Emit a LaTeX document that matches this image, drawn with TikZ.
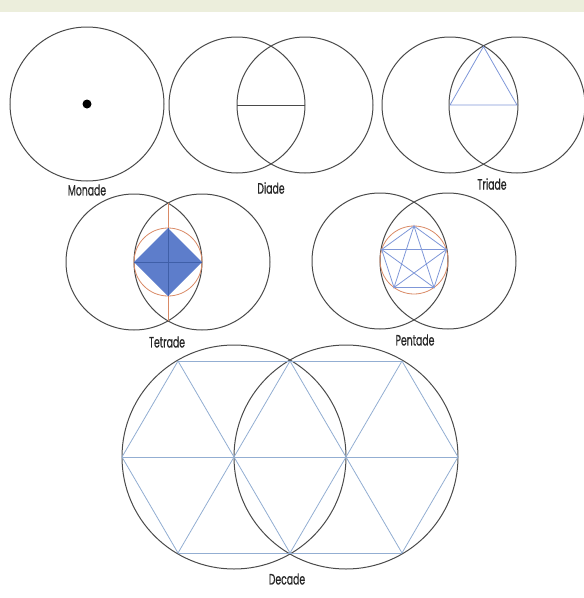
\documentclass[tikz,border=0pt]{standalone}
\usepackage{fontspec}
\setmainfont{Poppins}[FakeStretch=0.62, FakeBold=0.6]
\usepackage{tikz}

\definecolor{bandgreen}{HTML}{ECEEDC}
\definecolor{ringgray}{HTML}{4A4A4A}
\definecolor{gridblue}{HTML}{93AED2}
\definecolor{starblue}{HTML}{7F97D8}
\definecolor{fillblue}{HTML}{5D7DCB}
\definecolor{crossblue}{HTML}{3F5FA8}
\definecolor{ringred}{HTML}{D98A66}

\begin{document}
\begin{tikzpicture}[
    x=1pt, y=-1pt,
    ring/.style={draw=ringgray, line width=1pt},
    gridline/.style={draw=gridblue, line width=0.8pt},
    starline/.style={draw=starblue, line width=0.8pt},
    redline/.style={draw=ringred, line width=0.8pt},
    namelabel/.style={font=\fontsize{15}{17}\selectfont, text=black!85, inner sep=0pt}
]
\useasboundingbox (0,0) rectangle (584,598);
\fill[bandgreen] (0,0) rectangle (584,12);

% monade
\draw[ring] (87,104) circle (77);
\fill[black] (87,104) circle (4.5);
\node[namelabel] (monade) at (87,190) {Monade};

% diade
\draw[ring] (237,105) circle (68);
\draw[ring] (305,105) circle (68);
\draw[ring] (237,105) -- (305,105);
\node[namelabel] (diade) at (271,188) {Diade};

% triade
\draw[ring] (450,105) circle (68);
\draw[ring] (517,105) circle (68);
\draw[starline] (450,105) -- (517,105) -- (483.5,46.5) -- cycle;
\node[namelabel] (triade) at (492,184) {Triade};

% tetrade
\draw[ring] (134,262) circle (68);
\draw[ring] (202,262) circle (68);
\draw[redline] (168,203) -- (168,321);
\draw[redline] (168,262) circle (34);
\fill[fillblue] (134,262) -- (168,228) -- (202,262) -- (168,296) -- cycle;
\draw[crossblue, line width=0.6pt] (134,262) -- (202,262);
\draw[crossblue, line width=0.6pt] (168,228) -- (168,296);
\node[namelabel] (tetrade) at (167,342) {Tetrade};

% pentade
\draw[ring] (380,261) circle (68);
\draw[ring] (448,261) circle (68);
\begin{scope}[shift={(414,260)}, yscale=-1]
  \draw[redline] (0,0) circle (34);
  \draw[starline] (90:34) -- (162:34) -- (234:34) -- (306:34) -- (18:34) -- cycle;
  \draw[starline] (90:34) -- (234:34) -- (18:34) -- (162:34) -- (306:34) -- cycle;
\end{scope}
\node[namelabel] (pentade) at (415,340) {Pentade};

% decade
\draw[ring] (234,457) circle (112);
\draw[ring] (346,457) circle (112);
\draw[gridline] (178,361) -- (402,361);
\draw[gridline] (122,457) -- (458,457);
\draw[gridline] (178,553) -- (402,553);
\draw[gridline] (122,457) -- (178,361);
\draw[gridline] (178,553) -- (290,361);
\draw[gridline] (290,553) -- (402,361);
\draw[gridline] (402,553) -- (458,457);
\draw[gridline] (178,361) -- (290,553);
\draw[gridline] (290,361) -- (402,553);
\draw[gridline] (122,457) -- (178,553);
\draw[gridline] (402,361) -- (458,457);
\node[namelabel] (decade) at (287,579) {Decade};
\end{tikzpicture}
\end{document}
